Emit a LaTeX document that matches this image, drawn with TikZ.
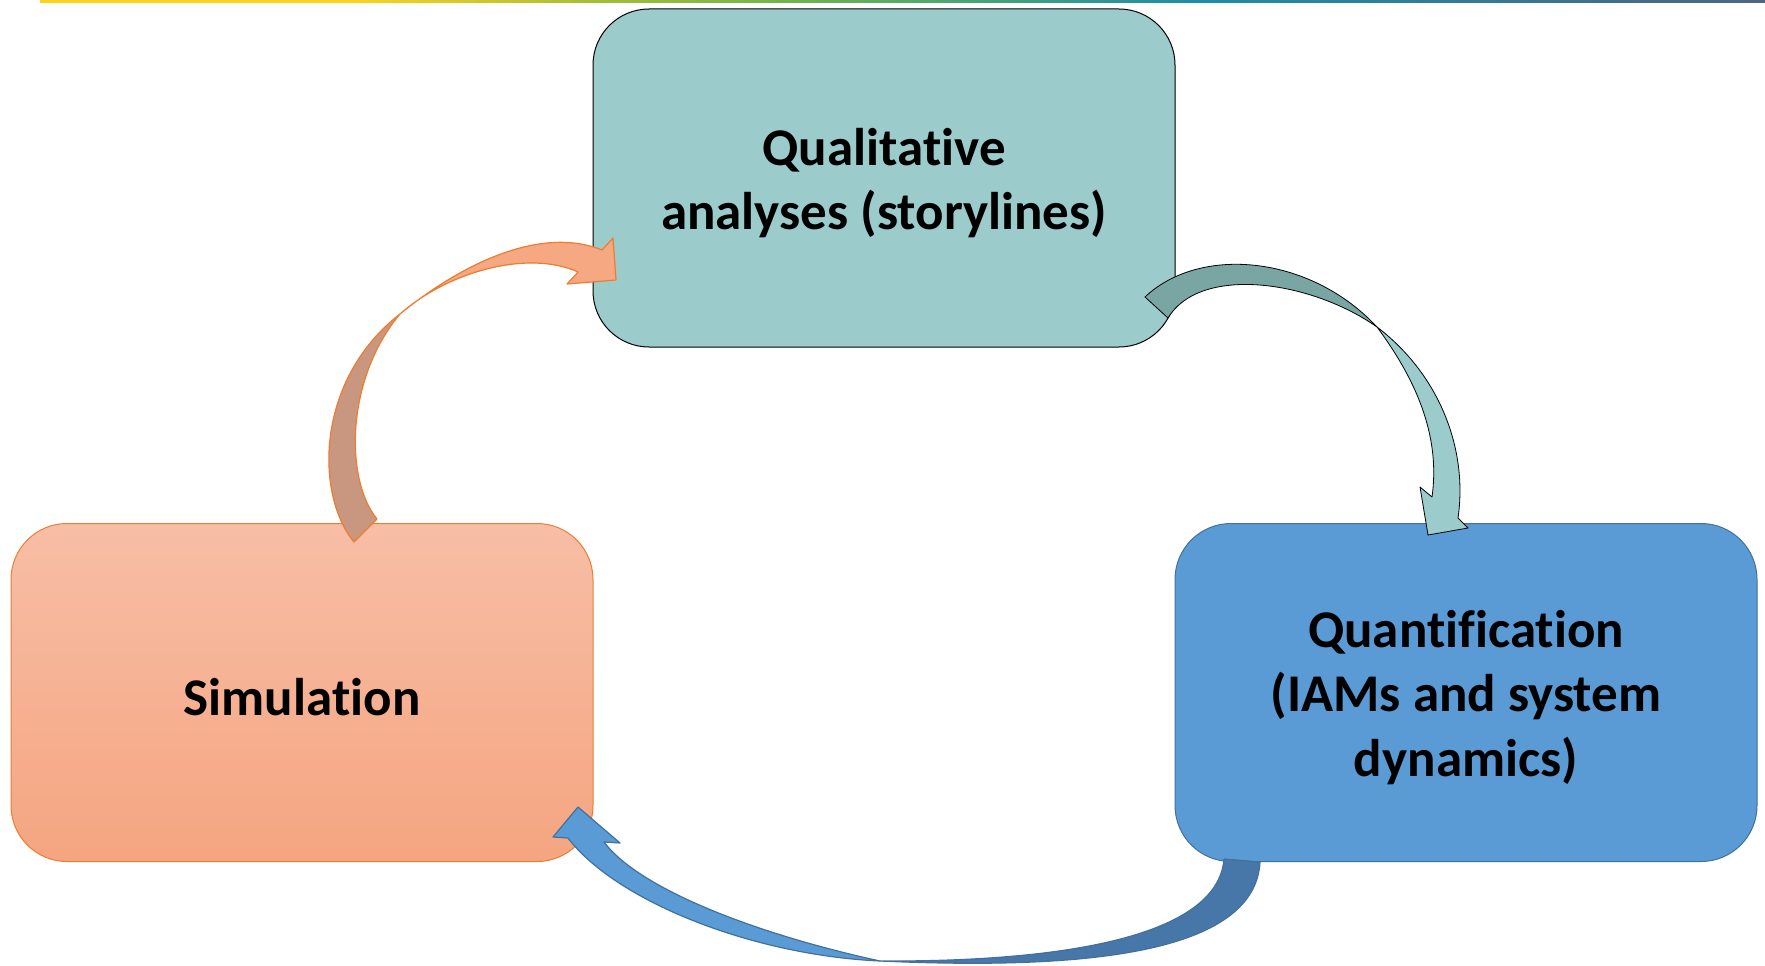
\documentclass[tikz,border=0pt]{standalone}
\usepackage{fontspec}
\setmainfont{Carlito}[Ligatures=NoCommon]
\definecolor{tealbox}{HTML}{9BCBCB}
\definecolor{tealdark}{HTML}{79A5A3}
\definecolor{bluebox}{HTML}{5B9BD5}
\definecolor{blueline}{HTML}{41719C}
\definecolor{bluedark}{HTML}{4677A8}
\definecolor{orgtop}{HTML}{F7BEA6}
\definecolor{orgbot}{HTML}{F5A580}
\definecolor{orgline}{HTML}{ED7D31}
\definecolor{orglight}{HTML}{F5A882}
\definecolor{orgdark}{HTML}{C9977F}
\definecolor{lyellow}{HTML}{FFD21E}
\definecolor{lolive}{HTML}{A5BE35}
\definecolor{lgreen}{HTML}{6FB34F}
\definecolor{ltealgreen}{HTML}{3A9E84}
\definecolor{ltealblue}{HTML}{1E8CA8}
\definecolor{lslate}{HTML}{4C6683}
\pgfdeclarehorizontalshading{topline}{100bp}{color(0bp)=(lyellow); color(25bp)=(lyellow); color(34bp)=(lyellow); color(41bp)=(lolive); color(47bp)=(lgreen); color(54bp)=(ltealgreen); color(58.5bp)=(ltealblue); color(75bp)=(lslate); color(100bp)=(lslate)}
\tikzset{
  box/.style={minimum width=582pt, minimum height=338pt, rounded corners=56pt,
    inner sep=0pt, line width=1pt},
  lbl/.style={align=center, inner sep=0pt, font=\fontsize{53}{64.5}\selectfont\bfseries},
  arrowline/.style={line width=1.2pt, line join=round}
}
\begin{document}
\begin{tikzpicture}[x=1pt,y=-1pt]
\useasboundingbox (0,0) rectangle (1765,966);
\shade[shading=topline] (40,0) rectangle (1765,2.5);

\node[box, draw=black, fill=tealbox] (qual) at (884,178) {};
\node[box, draw=orgline, top color=orgtop, bottom color=orgbot] (sim) at (302,692.5) {};
\node[box, draw=blueline, fill=bluebox] (quant) at (1466,692.5) {};
\node[lbl] (qualtext) at ([yshift=-5pt]qual.center) {Qualitative\\analyses (storylines)};
\node[lbl] (simtext) at ([yshift=-5pt]sim.center) {Simulation};
\node[lbl] (quanttext) at ([yshift=-5pt]quant.center) {Quantification\\(IAMs and system\\dynamics)};

% orange arrow: Simulation -> Qualitative
\path[arrowline, fill=orgdark, draw=orgline] (354,542) -- (377,519)
  .. controls (345,480) and (345,380) .. (400,314)
  .. controls (315,380) and (315,495) .. (354,542) -- cycle;
\path[arrowline, fill=orglight, draw=orgline] (400,314)
  .. controls (460,265) and (540,225) .. (602,250)
  -- (613,238) -- (616,280) -- (567,284) -- (578,272)
  .. controls (530,250) and (450,270) .. (400,314) -- cycle;

% teal arrow: Qualitative -> Quantification
\path[arrowline, fill=tealdark, draw=black, line width=0.8pt] (1168,318) -- (1145,297)
  .. controls (1200,245) and (1310,255) .. (1377,327)
  .. controls (1310,280) and (1200,265) .. (1168,318) -- cycle;
\path[arrowline, fill=tealbox, draw=black, line width=0.8pt] (1377,327)
  .. controls (1440,375) and (1468,450) .. (1458,518)
  -- (1468,528) -- (1428,535) -- (1420,487) -- (1432,497)
  .. controls (1440,440) and (1420,385) .. (1377,327) -- cycle;

% blue arrow: Quantification -> Simulation
\path[arrowline, fill=bluedark, draw=blueline] (1224,859) -- (1260,862)
  .. controls (1255,955) and (1080,970) .. (880,961)
  .. controls (1070,962) and (1218,935) .. (1224,859) -- cycle;
\path[arrowline, fill=bluebox, draw=blueline] (880,961)
  .. controls (750,955) and (615,900) .. (568,838)
  -- (553,837) -- (578,807) -- (620,843) -- (604,842)
  .. controls (640,890) and (760,935) .. (880,961) -- cycle;
\end{tikzpicture}
\end{document}
